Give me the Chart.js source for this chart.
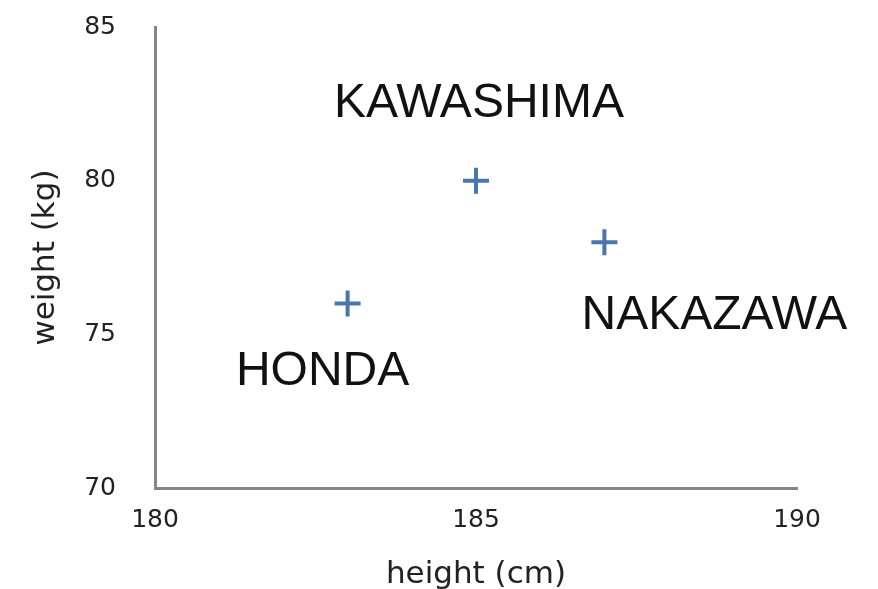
<!DOCTYPE html>
<html>
<head>
<meta charset="utf-8">
<script src="https://cdn.jsdelivr.net/npm/chart.js@4"></script>
<style>
  html, body { margin: 0; padding: 0; background: #fff; }
  #wrap { width: 878px; height: 589px; }
</style>
</head>
<body>
<div id="wrap"><canvas id="scatterChart"></canvas></div>
<script>
// players: height (cm) / weight (kg)
const names = ["HONDA", "KAWASHIMA", "NAKAZAWA"];
const heights = [183, 185, 187];
const weights = [76, 80, 78];

const xTicks = [180, 185, 190];
const yTicks = [70, 75, 80, 85];

// where each name sits relative to its marker (pixels)
const labelOffsets = [[-25, 68], [3, -77], [110, 74]];

const nameLabels = {
    id: "nameLabels",
    afterDatasetsDraw(chart) {
        const ctx = chart.ctx;
        const meta = chart.getDatasetMeta(0);
        ctx.save();
        ctx.font = "48px 'Liberation Sans', Arial, sans-serif";
        ctx.fillStyle = "#111";
        ctx.textAlign = "center";
        ctx.textBaseline = "middle";
        meta.data.forEach((pt, i) => {
            ctx.fillText(names[i], pt.x + labelOffsets[i][0], pt.y + labelOffsets[i][1]);
        });
        ctx.restore();
    }
};

const axisColor = "#858585";
const tickFont = { family: "'DejaVu Sans', sans-serif", size: 25 };
const titleFont = { family: "'DejaVu Sans', sans-serif", size: 31 };

new Chart(document.getElementById("scatterChart"), {
    type: "scatter",
    data: {
        datasets: [{
            data: heights.map((h, i) => ({ x: h, y: weights[i] })),
            pointStyle: "cross",
            pointRadius: 13,
            pointHoverRadius: 13,
            borderWidth: 4,
            pointBorderWidth: 4,
            borderColor: "#4a76ae",
            backgroundColor: "#4a76ae"
        }]
    },
    options: {
        responsive: true,
        maintainAspectRatio: false,
        animation: false,
        layout: { padding: { top: 27, right: 81, left: 0, bottom: 0 } },
        plugins: {
            legend: { display: false },
            tooltip: { enabled: false }
        },
        scales: {
            x: {
                type: "linear",
                min: 180,
                max: 190,
                afterBuildTicks: axis => { axis.ticks = xTicks.map(v => ({ value: v })); },
                afterFit: axis => {
                    axis.height = 101;
                    axis.paddingLeft = 0;
                    axis.paddingRight = 0;
                },
                grid: { display: false, drawTicks: false },
                border: { display: true, color: axisColor, width: 3 },
                ticks: { color: "#222", font: tickFont, padding: 17, maxRotation: 0 },
                title: {
                    display: true,
                    text: "height (cm)",
                    color: "#222",
                    font: titleFont,
                    padding: { top: 0, bottom: -5 }
                }
            },
            y: {
                type: "linear",
                min: 70,
                max: 85,
                afterBuildTicks: axis => { axis.ticks = yTicks.map(v => ({ value: v })); },
                afterFit: axis => {
                    axis.width = 155;
                    axis.paddingTop = 0;
                    axis.paddingBottom = 0;
                },
                grid: { display: false, drawTicks: false },
                border: { display: true, color: axisColor, width: 3 },
                ticks: { color: "#222", font: tickFont, padding: 39 },
                title: {
                    display: true,
                    text: "weight (kg)",
                    color: "#222",
                    font: titleFont,
                    padding: { top: 27, bottom: 0 }
                }
            }
        }
    },
    plugins: [nameLabels]
});
</script>
</body>
</html>
